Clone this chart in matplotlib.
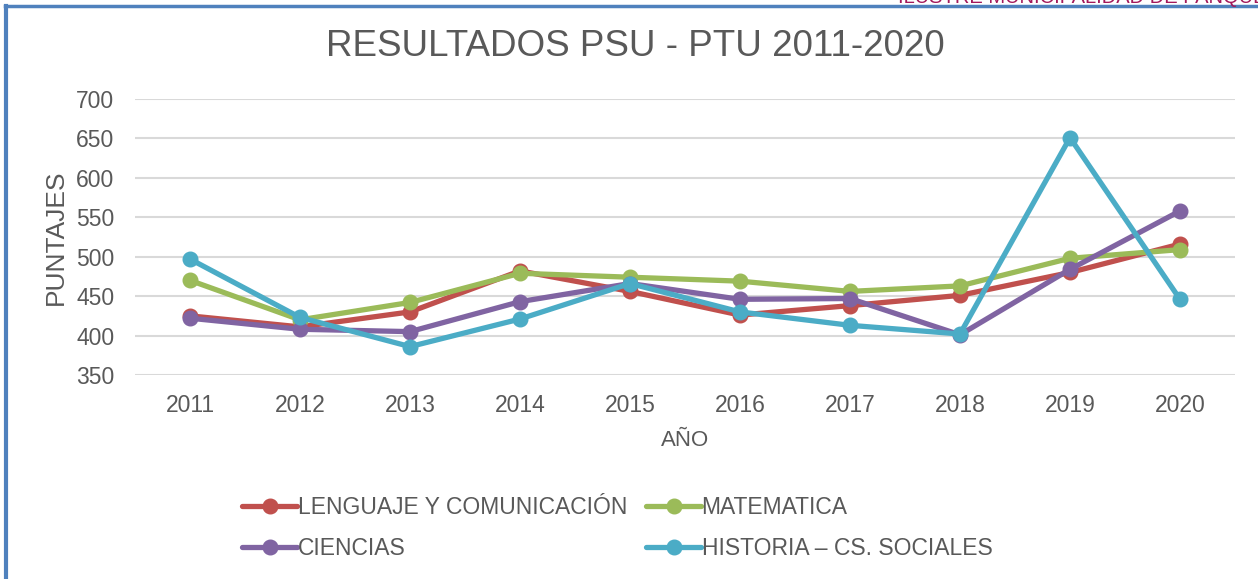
import matplotlib.pyplot as plt
from matplotlib.lines import Line2D

plt.rcParams['font.family'] = ['Liberation Sans', 'DejaVu Sans']

years = ['2011', '2012', '2013', '2014', '2015', '2016', '2017', '2018', '2019', '2020']
lenguaje = [425, 411, 430, 482, 456, 426, 438, 451, 480, 516]
matematica = [470, 420, 442, 479, 474, 469, 456, 463, 498, 509]
ciencias = [422, 408, 405, 443, 466, 446, 447, 401, 484, 558]
historia = [497, 423, 386, 421, 466, 430, 413, 402, 651, 446]

series = [
    ('LENGUAJE Y COMUNICACIÓN', lenguaje, '#C0504D'),
    ('MATEMATICA', matematica, '#9BBB59'),
    ('CIENCIAS', ciencias, '#8064A2'),
    ('HISTORIA – CS. SOCIALES', historia, '#4BACC6'),
]

fig = plt.figure(figsize=(12.58, 5.79), dpi=100)
ax = fig.add_axes([135 / 1258, 1 - 375 / 579, 1100 / 1258, 276 / 579])

x = range(len(years))
lines = {}
for name, vals, col in series:
    ln, = ax.plot(x, vals, color=col, lw=3.8, marker='o', markersize=10.5, label=name,
                  solid_capstyle='round')
    lines[name] = ln

ax.set_xlim(-0.5, len(years) - 0.5)
ax.set_ylim(350, 700)
ax.set_yticks(range(350, 701, 50))
ax.set_xticks(list(x))
ax.set_xticklabels(years)
ax.grid(axis='y', color='#D9D9D9', lw=1.5)
ax.set_axisbelow(True)
for s in ax.spines.values():
    s.set_visible(False)
ax.tick_params(length=0, labelsize=16.5, colors='#595959')
ax.tick_params(axis='y', pad=15)
ax.tick_params(axis='x', pad=14)

ax.set_xlabel('AÑO', fontsize=16, color='#595959', labelpad=9)
ax.set_ylabel('PUNTAJES', fontsize=19, color='#595959', labelpad=6)

fig.text(0.505, 1 - 46 / 579, 'RESULTADOS PSU - PTU 2011-2020', fontsize=26.5,
         color='#595959', ha='center', va='center')

# row-major order: legend fills column by column
order = ['LENGUAJE Y COMUNICACIÓN', 'CIENCIAS', 'MATEMATICA', 'HISTORIA – CS. SOCIALES']
fig.legend([lines[k] for k in order], order, ncol=2, loc='center left',
           bbox_to_anchor=(231 / 1258, 1 - 528 / 579), borderpad=0,
           frameon=False, fontsize=16.5, handlelength=2.4, handletextpad=0.02,
           columnspacing=0.82, labelcolor='#595959', labelspacing=0.75)

# page border and cut header
fig.add_artist(Line2D([6 / 1258, 6 / 1258], [0, 1 - 6 / 579], color='#4F81BD', lw=3,
                      transform=fig.transFigure))
fig.add_artist(Line2D([5 / 1258, 1], [1 - 6 / 579, 1 - 6 / 579], color='#4F81BD', lw=2.5,
                      transform=fig.transFigure))
fig.text(898 / 1258, 1 - 3 / 579, 'ILUSTRE MUNICIPALIDAD DE PANQUEHUE', fontsize=14.5,
         color='#A3195B', ha='left', va='baseline')

fig.savefig('out.png', dpi=100)
